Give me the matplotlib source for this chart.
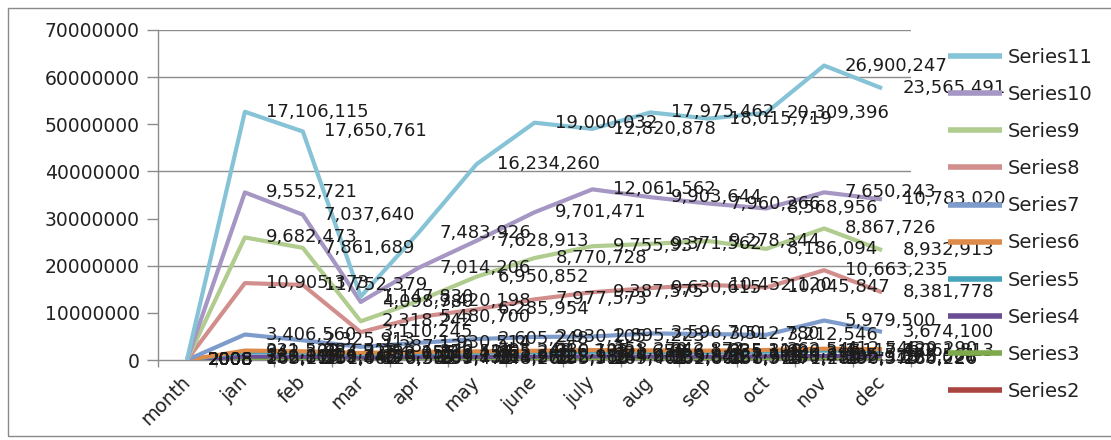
import matplotlib
matplotlib.use('Agg')
import matplotlib.pyplot as plt
import numpy as np
from matplotlib.patches import Rectangle
from matplotlib.ticker import FuncFormatter, FixedLocator

months = ['month', 'jan', 'feb', 'mar', 'apr', 'may', 'june', 'july', 'aug', 'sep', 'oct', 'nov', 'dec']

s2 = [2008, 163210, 151082, 120537, 139471, 148265, 155318, 169402, 162804, 158913, 171289, 190375, 180226]
s3 = [2008, 232817, 219446, 176302, 201735, 214960, 228153, 247081, 239620, 231574, 250411, 282913, 265020]
s4 = [2008, 330105, 312248, 250714, 285130, 301270, 322985, 344211, 335840, 327763, 349855, 395538, 372561]
s5 = [2008, 942300, 884723, 712055, 812470, 865240, 916732, 981650, 956174, 935109, 990317, 1117482, 1061813]
s6 = [2008, 331522, 282913, 236155, 276514, 305248, 330105, 358270, 342872, 335310, 362546, 412546, 420290]
s7 = [2008, 3406560, 2325913, 1287130, 1930514, 2605248, 2930105, 2895223, 3596700, 3512780, 3212546, 5979500, 3674100]
s8 = [2008, 10905373, 11752379, 3110245, 5480700, 6285954, 7977573, 9387575, 9630615, 10452120, 10045847, 10663235, 8381778]
s9 = [2008, 9682473, 7861689, 2318242, 3420198, 6950852, 8770728, 9755937, 9371562, 9278344, 8186094, 8867726, 8932913]
s10 = [2008, 9552721, 7037640, 4098780, 7014206, 7628913, 9701471, 12061562, 9903644, 7960266, 8568956, 7650243, 10783020]
s11 = [2008, 17106115, 17650761, 1147830, 7483926, 16234260, 19000032, 12820878, 17975462, 18015719, 20309396, 26900247, 23565491]

series_names = ['Series2', 'Series3', 'Series4', 'Series5', 'Series6',
                'Series7', 'Series8', 'Series9', 'Series10', 'Series11']
series_values = [s2, s3, s4, s5, s6, s7, s8, s9, s10, s11]
series_colors = ['#A94440', '#7FAA4C', '#6A4E94', '#46A4BC', '#DE8A48',
                 '#7D9BCB', '#D28E8C', '#B0CC8E', '#A596C3', '#86C3D6']

W, H = 1111, 440
fig = plt.figure(figsize=(W / 100, H / 100), dpi=100)
fig.patches.append(Rectangle((8 / W, 4 / H), 1.2, (436 - 8) / H, transform=fig.transFigure,
                             fill=False, edgecolor='#8a8a8a', linewidth=1.0))

ax = fig.add_axes([158 / W, 80 / H, (911 - 158) / W, 330 / H])
x = np.arange(len(months))

cum = np.zeros(len(months))
stacked = []
lines = []
for name, vals, col in zip(series_names, series_values, series_colors):
    cum = cum + np.array(vals, dtype=float)
    ln, = ax.plot(x, cum, color=col, lw=3.0, label=name, zorder=3, solid_capstyle='butt')
    lines.append(ln)
    stacked.append(cum.copy())

for vals, top in zip(series_values, stacked):
    for xi, yi, v in zip(x, top, vals):
        txt = str(v) if v < 10000 else f'{v:,}'
        ax.annotate(txt, (xi, yi), xytext=(15, 0), textcoords='offset points',
                    ha='left', va='center', fontsize=13, color='#1c1c1c',
                    annotation_clip=False, zorder=5)

ax.set_xlim(-0.5, len(months) - 0.5)
ax.set_ylim(0, 70000000)
ax.set_yticks(np.arange(0, 70000001, 10000000))
ax.yaxis.set_major_formatter(FuncFormatter(lambda v, p: f'{int(v)}'))
for g in [20000000, 40000000, 60000000, 70000000]:
    ax.axhline(g, color='#8c8c8c', lw=1.0, zorder=1)

ax.set_xticks(x)
ax.set_xticklabels(months, rotation=45, ha='right', va='center', rotation_mode='anchor')
ax.xaxis.set_minor_locator(FixedLocator(np.arange(-0.5, len(months), 1.0)))
ax.tick_params(axis='x', which='major', length=0, pad=14, labelsize=13.5, labelcolor='#222222')
ax.tick_params(axis='x', which='minor', length=5, color='#8c8c8c', width=1)
ax.tick_params(axis='y', length=8, color='#8c8c8c', width=1, pad=5, labelsize=13.5, labelcolor='#222222')

for sp in ['top', 'right']:
    ax.spines[sp].set_visible(False)
for sp in ['left', 'bottom']:
    ax.spines[sp].set_color('#8c8c8c')
    ax.spines[sp].set_linewidth(1.0)

handles = lines[::-1]
leg = fig.legend(handles, [h.get_label() for h in handles], loc='upper left',
                 bbox_to_anchor=(948 / W, 1 - 48 / H), frameon=False, fontsize=14,
                 handlelength=2.8, handletextpad=0.25, labelspacing=0.93,
                 borderpad=0, borderaxespad=0)
for t in leg.get_texts():
    t.set_color('#222222')
for lh in leg.get_lines():
    lh.set_linewidth(4.0)

fig.savefig('out.png', dpi=100)
